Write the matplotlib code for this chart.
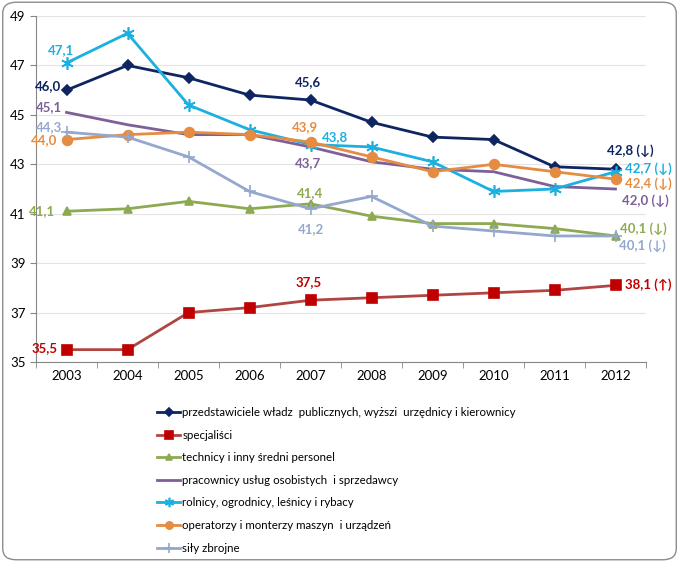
"""
Average age by occupation group, 2003-2012.
"""

import matplotlib
matplotlib.use("Agg")
from matplotlib import pyplot as plt
from matplotlib.patches import FancyBboxPatch

plt.rcParams["font.family"] = ["Lato", "DejaVu Sans"]

years = ["2003", "2004", "2005", "2006", "2007",
         "2008", "2009", "2010", "2011", "2012"]

kierownicy = [46.0, 47.0, 46.5, 45.8, 45.6, 44.7, 44.1, 44.0, 42.9, 42.8]
specjalisci = [35.5, 35.5, 37.0, 37.2, 37.5, 37.6, 37.7, 37.8, 37.9, 38.1]
technicy = [41.1, 41.2, 41.5, 41.2, 41.4, 40.9, 40.6, 40.6, 40.4, 40.1]
uslugi = [45.1, 44.6, 44.2, 44.2, 43.7, 43.1, 42.8, 42.7, 42.1, 42.0]
rolnicy = [47.1, 48.3, 45.4, 44.4, 43.8, 43.7, 43.1, 41.9, 42.0, 42.7]
operatorzy = [44.0, 44.2, 44.3, 44.2, 43.9, 43.3, 42.7, 43.0, 42.7, 42.4]
sily = [44.3, 44.1, 43.3, 41.9, 41.2, 41.7, 40.5, 40.3, 40.1, 40.1]

names = ["przedstawiciele władz  publicznych, wyższi  urzędnicy i kierownicy",
         "specjaliści",
         "technicy i inny średni personel",
         "pracownicy usług osobistych  i sprzedawcy",
         "rolnicy, ogrodnicy, leśnicy i rybacy",
         "operatorzy i monterzy maszyn  i urządzeń",
         "siły zbrojne"]

arrows_2012 = ["↓", "↑", "↓", "↓", "↓", "↓", "↓"]

series = [kierownicy, specjalisci, technicy, uslugi, rolnicy, operatorzy, sily]

# style per series: line colour, marker, marker colour, marker size, text colour
styles = [
    ("#0E2561", "D", "#0E2561", 5, "#0E2561"),
    ("#B04542", "s", "#C00000", 7, "#C00000"),
    ("#8DAA52", "^", "#8DAA52", 6, "#8DAA52"),
    ("#7E5F98", None, "#7E5F98", 0, "#7E5F98"),
    ("#1CB0E0", (6, 2, 0), "#1CB0E0", 9, "#1CB0E0"),
    ("#E58C42", "o", "#E58C42", 7, "#E58C42"),
    ("#93A8CC", "+", "#93A8CC", 9, "#93A8CC"),
]

fig = plt.figure(figsize=(6.79, 5.62), dpi=100)
border = FancyBboxPatch((0.004, 0.004), 0.992, 0.992,
                        boxstyle="round,pad=0,rounding_size=0.02",
                        transform=fig.transFigure, fc="white",
                        ec="#8C8C8C", lw=1.0, zorder=-10)
fig.patches.append(border)

ax = fig.add_axes([36 / 679, 1 - 362 / 562, 610 / 679, 346 / 562])
x = list(range(len(years)))

for vals, name, st in zip(series, names, styles):
    lc, mk, mc, ms, tc = st
    ax.plot(x, vals, color=lc, lw=2.0, marker=mk, markersize=ms,
            markerfacecolor=mc, markeredgecolor=mc, markeredgewidth=1.2,
            label=name, zorder=3)

# value labels: (series idx, point idx, dx, dy in points, ha)
labels = [
    (0, 0, -3.6, 3, "right"),
    (4, 0, -3.6, 9.4, "center"),
    (3, 0, -3, 3.6, "right"),
    (6, 0, -3, 3.6, "right"),
    (5, 0, -6.5, -0.7, "right"),
    (2, 0, -8, 0, "right"),
    (1, 0, -6.5, 1.4, "right"),
    (0, 4, -1.5, 13, "center"),
    (5, 4, -4.3, 10.8, "center"),
    (4, 4, 8, 5, "left"),
    (3, 4, -1.5, -11.5, "center"),
    (2, 4, 0, 8, "center"),
    (6, 4, 0, -14.4, "center"),
    (1, 4, -1.5, 13, "center"),
]
for si, pi, dx, dy, ha in labels:
    v = series[si][pi]
    ax.annotate(f"{v:.1f}".replace(".", ","), (x[pi], v),
                xytext=(dx, dy), textcoords="offset points",
                ha=ha, va="center", fontsize=9.5, fontweight="bold",
                color=styles[si][4], zorder=5)

# 2012 labels with trend arrows, offsets per series (dx, dy, ha)
end_offsets = [(10.8, 13.7, "center"), (6.5, 0.7, "left"),
               (3.6, 5, "left"), (5, -8.6, "left"),
               (6.5, 2.2, "left"), (6.5, -2.9, "left"),
               (2.2, -7.2, "left")]
for si, (vals, arr) in enumerate(zip(series, arrows_2012)):
    dx, dy, ha = end_offsets[si]
    ax.annotate(f"{vals[-1]:.1f}".replace(".", ",") + f" ({arr})",
                (x[-1], vals[-1]), xytext=(dx, dy),
                textcoords="offset points", ha=ha, va="center",
                fontsize=9.5, fontweight="bold", color=styles[si][4],
                zorder=5)

ax.set_xlim(-0.5, len(years) - 0.5)
ax.set_ylim(35, 49)
ax.set_yticks(range(35, 50, 2))
ax.set_xticks(x)
ax.set_xticklabels(years)
ax.set_xticks([i - 0.5 for i in range(len(years) + 1)], minor=True)
ax.tick_params(axis="x", which="major", length=0, labelsize=9.5, pad=6)
ax.tick_params(axis="x", which="minor", length=4, color="#868686")
ax.tick_params(axis="y", length=4, color="#868686", labelsize=9.5)
ax.grid(axis="y", color="#E4E4E4", lw=0.8, zorder=0)
for side in ["top", "right"]:
    ax.spines[side].set_visible(False)
for side in ["left", "bottom"]:
    ax.spines[side].set_color("#868686")

leg = fig.legend(loc="upper left", bbox_to_anchor=(147 / 679, 1 - 397 / 562),
                 frameon=False, fontsize=8.3, handlelength=2.0,
                 handletextpad=0.15, labelspacing=1.0, markerscale=0.75)

fig.savefig("out.png", dpi=100)
